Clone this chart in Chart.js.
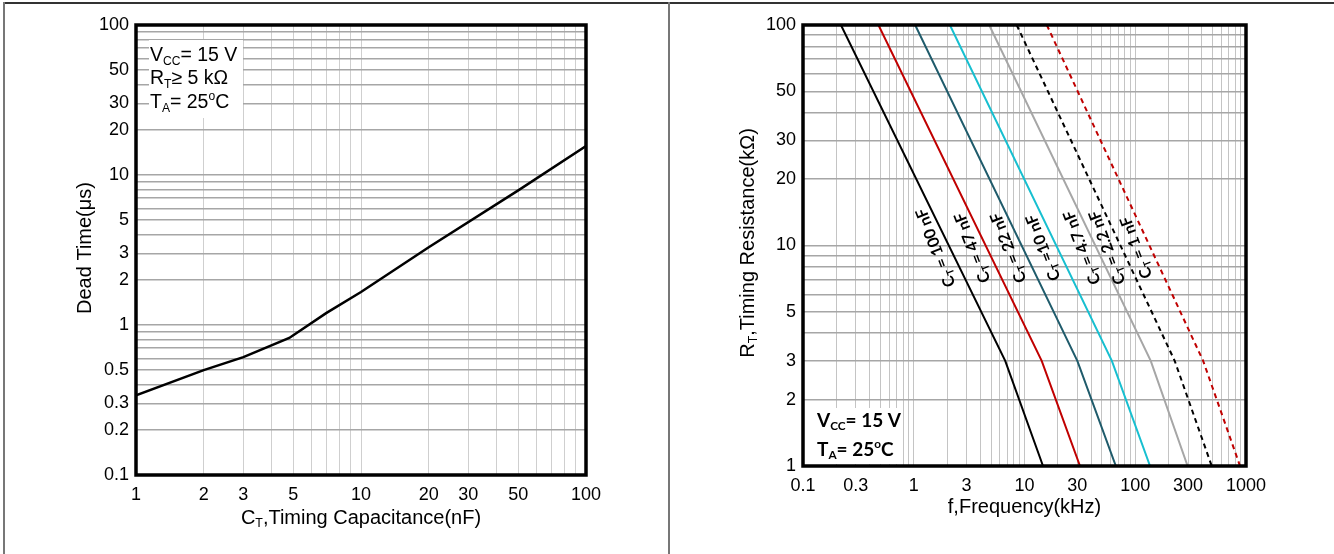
<!DOCTYPE html>
<html>
<head>
    <title>Dead time and timing resistance</title>
    <script src="https://cdn.jsdelivr.net/npm/chart.js"></script>
    <style>
        body { margin: 0; background: #fff; }
        .box { position: absolute; top: 0; height: 554px; }
        .line { position: absolute; background: #777; }
    </style>
</head>
<body>
    <div class="line" style="left:3px;top:2px;width:1331px;height:2px;background:#333"></div>
    <div class="line" style="left:3px;top:2px;width:2px;height:552px"></div>
    <div class="line" style="left:668px;top:2px;width:2px;height:552px"></div>
    <div class="box" style="left:0;width:668px"><canvas id="dead"></canvas></div>
    <div class="box" style="left:670px;width:664px"><canvas id="freq"></canvas></div>

    <script>
        // left chart: dead time vs timing capacitance
        var capValues = [1, 2, 3, 4.8, 7, 10, 20, 50, 100];
        var deadTimes = [0.34, 0.5, 0.61, 0.82, 1.2, 1.66, 3.3, 7.9, 15.6];
        var capTickLabels = [1, 2, 3, 5, 10, 20, 30, 50, 100];
        var deadTickLabels = [0.1, 0.2, 0.3, 0.5, 1, 2, 3, 5, 10, 20, 30, 50, 100];

        // right chart: timing resistance vs frequency, one curve per C_T
        var rtValues = [100, 3, 1];
        var f100nF = [0.22, 6.7, 14.7];
        var f47nF = [0.48, 14.3, 31.7];
        var f22nF = [1.03, 30, 66.8];
        var f10nF = [2.12, 61.5, 136];
        var f4n7F = [4.8, 138, 297];
        var f2n2F = [8.5, 227, 490];
        var f1nF = [15.9, 410, 883];
        var curveNames = ['100 nF', '47 nF', '22 nF', '10 nF', '4.7 nF', '2.2 nF', '1 nF'];
        var freqTickLabels = [0.1, 0.3, 1, 3, 10, 30, 100, 300, 1000];
        var rtTickLabels = [1, 2, 3, 5, 10, 20, 30, 50, 100];

        var SANS = "'Liberation Sans', Arial, sans-serif";
        var CALI = "Lato, 'Liberation Sans', sans-serif";

        // all 1..9 multiples inside [min, max] for the log grid
        function logGrid(min, max) {
            var out = [];
            for (var e = Math.floor(Math.log10(min)); e <= Math.ceil(Math.log10(max)); e++) {
                for (var m = 1; m < 10; m++) {
                    var v = +(m * Math.pow(10, e)).toPrecision(3);
                    if (v >= min - 1e-9 && v <= max + 1e-9) out.push(v);
                }
            }
            return out;
        }

        function hasLabel(list, v) {
            return list.some(function (l) { return Math.abs(l - v) < l * 1e-6; });
        }

        // text with sub/superscript parts: [[text, 'sub'|'sup'|''], ...]
        function drawRich(ctx, parts, x, y, rot, size, family, weight, align) {
            ctx.save();
            ctx.translate(x, y);
            ctx.rotate(rot);
            ctx.fillStyle = '#000';
            ctx.textBaseline = 'middle';
            ctx.textAlign = 'left';
            var w = 0;
            parts.forEach(function (p) {
                var s = p[1] ? size * 0.62 : size;
                ctx.font = weight + ' ' + s + 'px ' + family;
                w += ctx.measureText(p[0]).width;
            });
            var cx = align === 'left' ? 0 : -w / 2;
            parts.forEach(function (p) {
                var s = p[1] ? size * 0.62 : size;
                ctx.font = weight + ' ' + s + 'px ' + family;
                var dy = p[1] === 'sub' ? size * 0.3 : (p[1] === 'sup' ? -size * 0.3 : 0);
                ctx.fillText(p[0], cx, dy);
                cx += ctx.measureText(p[0]).width;
            });
            ctx.restore();
            return w;
        }

        function logAxis(min, max, labels, fixed, isY, gridColor, gridWidth) {
            return {
                type: 'logarithmic',
                min: min,
                max: max,
                afterBuildTicks: function (scale) {
                    scale.ticks = logGrid(min, max).map(function (v) { return { value: v }; });
                },
                afterFit: function (scale) {
                    if (isY) scale.width = fixed; else scale.height = fixed;
                    scale.paddingTop = 0; scale.paddingBottom = 0;
                    scale.paddingLeft = 0; scale.paddingRight = 0;
                },
                ticks: {
                    autoSkip: false,
                    maxRotation: 0,
                    padding: isY ? 7 : 9,
                    color: '#000',
                    font: { family: SANS, size: 18 },
                    callback: function (v) { return hasLabel(labels, v) ? String(v) : ''; }
                },
                grid: { color: gridColor, lineWidth: gridWidth, drawTicks: false },
                border: { display: false }
            };
        }

        var frame = {
            id: 'frame',
            afterDatasetsDraw: function (chart) {
                var a = chart.chartArea, ctx = chart.ctx;
                ctx.save();
                ctx.strokeStyle = '#000';
                ctx.lineWidth = 3.5;
                ctx.strokeRect(a.left, a.top, a.right - a.left, a.bottom - a.top);
                ctx.restore();
            }
        };

        // ---- left chart ----
        new Chart(document.getElementById('dead'), {
            type: 'line',
            data: {
                datasets: [{
                    data: capValues.map(function (c, i) { return { x: c, y: deadTimes[i] }; }),
                    borderColor: '#000',
                    borderWidth: 2.5,
                    pointRadius: 0,
                    tension: 0
                }]
            },
            options: {
                responsive: true,
                maintainAspectRatio: false,
                animation: false,
                layout: { padding: { left: 76, right: 82, top: 25, bottom: 39 } },
                plugins: { legend: { display: false }, tooltip: { enabled: false } },
                scales: {
                    x: logAxis(1, 100, capTickLabels, 40, false, '#cfcfcf', 1),
                    y: logAxis(0.1, 100, deadTickLabels, 60, true, '#a6a6a6', 1.5)
                }
            },
            plugins: [frame, {
                id: 'deadText',
                afterDraw: function (chart) {
                    var a = chart.chartArea, ctx = chart.ctx;
                    var cx = (a.left + a.right) / 2;
                    drawRich(ctx, [['C', ''], ['T', 'sub'], [',Timing Capacitance(nF)', '']], cx, 518, 0, 20, SANS, 'normal');
                    drawRich(ctx, [['Dead Time(\u03bcs)', '']], 85, 248, -Math.PI / 2, 20, SANS, 'normal');
                    ctx.save();
                    ctx.fillStyle = '#fff';
                    ctx.fillRect(149, 40, 94, 78);
                    ctx.restore();
                    drawRich(ctx, [['V', ''], ['CC', 'sub'], ['= 15 V', '']], 150, 56, 0, 19.5, SANS, 'normal', 'left');
                    drawRich(ctx, [['R', ''], ['T', 'sub'], ['\u2265 5 k\u03a9', '']], 150, 79, 0, 19.5, SANS, 'normal', 'left');
                    drawRich(ctx, [['T', ''], ['A', 'sub'], ['= 25', ''], ['o', 'sup'], ['C', '']], 150, 103, 0, 19.5, SANS, 'normal', 'left');
                }
            }]
        });

        // ---- right chart ----
        var curveFreqs = [f100nF, f47nF, f22nF, f10nF, f4n7F, f2n2F, f1nF];
        var curveColors = ['#000000', '#c00000', '#1f5b6b', '#17bfd0', '#a6a6a6', '#000000', '#c00000'];
        var curveDash = [[], [], [], [], [], [5, 4], [5, 4]];

        new Chart(document.getElementById('freq'), {
            type: 'line',
            data: {
                datasets: curveFreqs.map(function (fs, k) {
                    return {
                        label: curveNames[k],
                        data: fs.map(function (f, i) { return { x: f, y: rtValues[i] }; }),
                        borderColor: curveColors[k],
                        borderWidth: 2,
                        borderDash: curveDash[k],
                        pointRadius: 0,
                        tension: 0
                    };
                })
            },
            options: {
                responsive: true,
                maintainAspectRatio: false,
                animation: false,
                layout: { padding: { left: 73, right: 88, top: 25, bottom: 48 } },
                plugins: { legend: { display: false }, tooltip: { enabled: false } },
                scales: {
                    x: logAxis(0.1, 1000, freqTickLabels, 40, false, '#c4c4c4', 1),
                    y: logAxis(1, 100, rtTickLabels, 60, true, '#a6a6a6', 1.5)
                }
            },
            plugins: [frame, {
                id: 'freqText',
                afterDraw: function (chart) {
                    var a = chart.chartArea, ctx = chart.ctx;
                    var ys = chart.scales.y;
                    var yl = ys.getPixelForValue(10);
                    // curve labels, placed beside each curve where R_T = 10 kΩ
                    chart.data.datasets.forEach(function (ds, k) {
                        var pts = chart.getDatasetMeta(k).data;
                        for (var i = 0; i < pts.length - 1; i++) {
                            var p = pts[i], q = pts[i + 1];
                            if (yl >= p.y && yl <= q.y) {
                                var t = (yl - p.y) / (q.y - p.y);
                                var x = p.x + t * (q.x - p.x);
                                var ang = Math.atan2(q.y - p.y, q.x - p.x) - Math.PI + 0.08;
                                ctx.save();
                                ctx.translate(x, yl - 3);
                                ctx.rotate(ang);
                                var eq = k === 3 ? ' =' : ' = ';
                                drawRich(ctx, [['C', ''], ['T', 'sub'], [eq + ds.label, '']], 0, -14, 0, 16, CALI, 'bold');
                                ctx.restore();
                                break;
                            }
                        }
                    });
                    drawRich(ctx, [['f,Frequency(kHz)', '']], (a.left + a.right) / 2, 507, 0, 20, SANS, 'normal');
                    drawRich(ctx, [['R', ''], ['T', 'sub'], [',Timing Resistance(k\u03a9)', '']], 78, 243, -Math.PI / 2, 20, SANS, 'normal');
                    ctx.save();
                    ctx.fillStyle = '#fff';
                    ctx.fillRect(a.left + 2, 408, 98, a.bottom - 410);
                    ctx.restore();
                    drawRich(ctx, [['V', ''], ['CC', 'sub'], ['= 15 V', '']], a.left + 14, 421, 0, 19, CALI, 'bold', 'left');
                    drawRich(ctx, [['T', ''], ['A', 'sub'], ['= 25', ''], ['o', 'sup'], ['C', '']], a.left + 14, 450, 0, 19, CALI, 'bold', 'left');
                }
            }]
        });
    </script>
</body>
</html>
